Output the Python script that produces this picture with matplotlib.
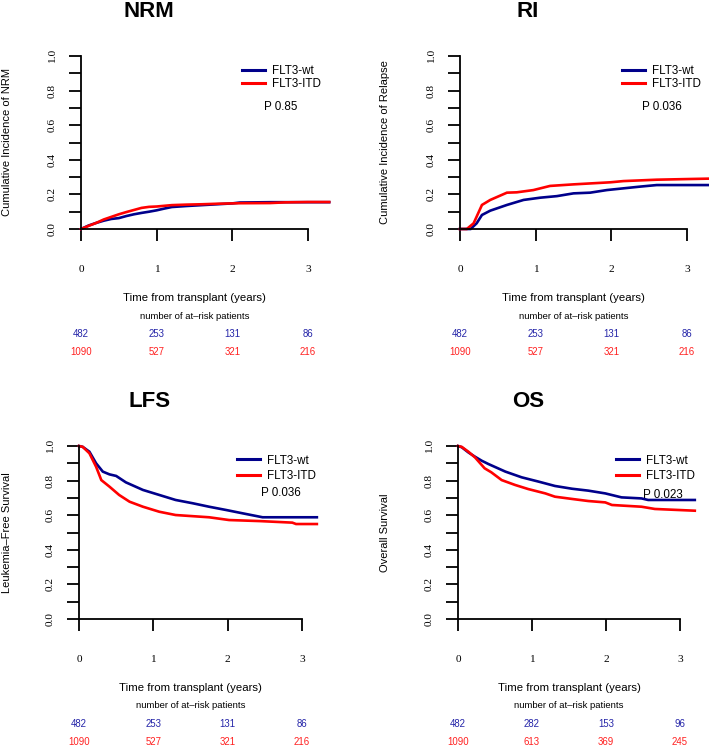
import matplotlib
matplotlib.use("Agg")
import matplotlib.pyplot as plt
import numpy as np
from matplotlib.transforms import blended_transform_factory
from matplotlib.lines import Line2D

plt.rcParams['font.family'] = ['Liberation Sans', 'DejaVu Sans']

# ---------------- data ----------------
groups = ["FLT3-wt", "FLT3-ITD"]
years_ticks = [0, 1, 2, 3]

nrm_t = [0, 0.1, 0.2, 0.3, 0.4, 0.5, 0.6, 0.7, 0.8, 0.9, 1.0, 1.1, 1.2, 1.4, 1.6,
         1.8, 2.0, 2.1, 2.5, 2.7, 3.0, 3.28]
nrm_wt = [0, 0.02, 0.035, 0.048, 0.058, 0.063, 0.075, 0.085, 0.093, 0.1, 0.108, 0.118,
          0.127, 0.133, 0.138, 0.143, 0.148, 0.153, 0.155, 0.155, 0.155, 0.155]
nrm_itd = [0, 0.018, 0.035, 0.055, 0.07, 0.085, 0.098, 0.11, 0.122, 0.128, 0.13, 0.134,
           0.138, 0.141, 0.143, 0.146, 0.148, 0.149, 0.15, 0.154, 0.156, 0.156]

ri_t_wt = [0, 0.14, 0.22, 0.29, 0.4, 0.62, 0.84, 1.06, 1.28, 1.5, 1.72, 1.94, 2.16,
           2.38, 2.6, 3.28]
ri_wt = [0, 0.0, 0.033, 0.081, 0.106, 0.139, 0.168, 0.181, 0.19, 0.206, 0.21, 0.225,
         0.235, 0.245, 0.254, 0.254]
ri_t_itd = [0, 0.09, 0.18, 0.29, 0.4, 0.62, 0.75, 0.97, 1.19, 1.5, 1.99, 2.16, 2.6,
            3.04, 3.28]
ri_itd = [0, 0.0, 0.033, 0.139, 0.168, 0.21, 0.212, 0.225, 0.249, 0.258, 0.27, 0.277,
          0.285, 0.289, 0.291]

lfs_t_wt = [0, 0.05, 0.14, 0.23, 0.32, 0.41, 0.5, 0.63, 0.86, 1.08, 1.3, 1.53, 1.75,
            1.98, 2.2, 2.47, 3.2]
lfs_wt = [1.0, 0.995, 0.967, 0.90, 0.852, 0.836, 0.827, 0.79, 0.746, 0.717, 0.688,
          0.669, 0.649, 0.63, 0.611, 0.588, 0.588]
lfs_t_itd = [0, 0.05, 0.14, 0.23, 0.3, 0.41, 0.54, 0.68, 0.86, 1.08, 1.3, 1.75, 2.02,
             2.43, 2.87, 2.92, 3.2]
lfs_itd = [1.0, 0.995, 0.958, 0.88, 0.803, 0.765, 0.717, 0.678, 0.649, 0.62, 0.601,
           0.588, 0.572, 0.566, 0.557, 0.549, 0.549]

os_t_wt = [0, 0.05, 0.14, 0.23, 0.32, 0.41, 0.64, 0.86, 1.09, 1.31, 1.54, 1.76, 1.99,
           2.21, 2.48, 2.57, 3.2]
os_wt = [1.0, 0.993, 0.963, 0.938, 0.915, 0.896, 0.852, 0.819, 0.794, 0.769, 0.753,
         0.742, 0.726, 0.703, 0.697, 0.688, 0.688]
os_t_itd = [0, 0.05, 0.14, 0.23, 0.3, 0.36, 0.45, 0.59, 0.77, 0.95, 1.18, 1.31, 1.54,
            1.76, 1.99, 2.08, 2.48, 2.66, 3.2]
os_itd = [1.0, 0.995, 0.967, 0.934, 0.9, 0.871, 0.848, 0.803, 0.775, 0.751, 0.726,
          0.707, 0.694, 0.682, 0.674, 0.659, 0.649, 0.636, 0.626]

risk_nrm_wt = [482, 253, 131, 86]
risk_nrm_itd = [1090, 527, 321, 216]
risk_ri_wt = [482, 253, 131, 86]
risk_ri_itd = [1090, 527, 321, 216]
risk_lfs_wt = [482, 253, 131, 86]
risk_lfs_itd = [1090, 527, 321, 216]
risk_os_wt = [482, 282, 153, 96]
risk_os_itd = [1090, 613, 369, 245]

titles = ["NRM", "RI", "LFS", "OS"]
ylabels = ["Cumulative Incidence of NRM", "Cumulative Incidence of Relapse",
           "Leukemia\u2013Free Survival", "Overall Survival"]
pvalues = ["P 0.85", "P 0.036", "P 0.036", "P 0.023"]

# ---------------- layout (pixels) ----------------
W, H = 709, 746
AX_H = 173
BLUE = "#00008B"
RED = "#FF0000"
NUM_BLUE = "#2424A8"
NUM_RED = "#FF2020"


def fx(x):
    return x / W


def fy(y):
    return 1 - y / H


fig = plt.figure(figsize=(W / 100, H / 100), dpi=100)

panels = [
    dict(left=81, top=56, ppy=75.67, tcx=149, tby=17, ylx=7,
         leg=(242, 65), lsp=0.12, p=(264, 106.5),
         data=(nrm_t, nrm_wt, nrm_t, nrm_itd), risk=(risk_nrm_wt, risk_nrm_itd)),
    dict(left=460, top=56, ppy=75.67, tcx=528, tby=17, ylx=385,
         leg=(622, 65), lsp=0.12, p=(642, 106.5),
         data=(ri_t_wt, ri_wt, ri_t_itd, ri_itd), risk=(risk_ri_wt, risk_ri_itd)),
    dict(left=79, top=446, ppy=74.33, tcx=150, tby=407, ylx=7,
         leg=(237, 454.5), lsp=0.3, p=(261, 492.5),
         data=(lfs_t_wt, lfs_wt, lfs_t_itd, lfs_itd), risk=(risk_lfs_wt, risk_lfs_itd)),
    dict(left=458, top=446, ppy=74.0, tcx=528, tby=407, ylx=385,
         leg=(616, 454.5), lsp=0.3, p=(643, 494.5),
         data=(os_t_wt, os_wt, os_t_itd, os_itd), risk=(risk_os_wt, risk_os_itd)),
]

for i, pn in enumerate(panels):
    left, top, ppy = pn["left"], pn["top"], pn["ppy"]
    bottom_px = top + AX_H
    ax = fig.add_axes([fx(left), fy(bottom_px), ppy * 3.3 / W, AX_H / H])
    ax.set_xlim(0, 3.3)
    ax.set_ylim(0, 1)
    tw, vw, ti, vi = pn["data"]
    ax.plot(tw, vw, color=BLUE, lw=1.9, solid_joinstyle="miter", clip_on=False)
    ax.plot(ti, vi, color=RED, lw=1.9, solid_joinstyle="miter", clip_on=False)

    for s in ["top", "right"]:
        ax.spines[s].set_visible(False)
    ax.spines["left"].set_bounds(0, 1)
    ax.spines["bottom"].set_bounds(0, 3)
    for s in ["left", "bottom"]:
        ax.spines[s].set_linewidth(1.3)

    ax.set_xticks(years_ticks)
    ax.set_xticklabels([str(v) for v in years_ticks])
    yt = np.round(np.arange(0, 1.01, 0.1), 1)
    ax.set_yticks(yt)
    ax.set_yticklabels([f"{v:.1f}" if k % 2 == 0 else "" for k, v in enumerate(yt)])
    ax.tick_params(axis="both", direction="out", length=8.6, width=1.3,
                   labelsize=8.2, labelfontfamily="Liberation Serif")
    ax.tick_params(axis="x", pad=17)
    ax.tick_params(axis="y", pad=9, labelrotation=90)
    for lab in ax.get_yticklabels():
        lab.set_va("center")

    # title
    fig.text(fx(pn["tcx"]), fy(pn["tby"]), titles[i], ha="center", va="baseline",
             fontsize=16, fontweight="bold")
    # y label
    fig.text(fx(pn["ylx"]), fy(top + AX_H / 2), ylabels[i], rotation=90,
             ha="center", va="center", fontsize=8)

    trans = blended_transform_factory(ax.transData, fig.transFigure)
    ax.text(1.5, fy(bottom_px + 69), "Time from transplant (years)", transform=trans,
            ha="center", va="center", fontsize=8.2)
    ax.text(1.5, fy(bottom_px + 87), "number of at\u2013risk patients", transform=trans,
            ha="center", va="center", fontsize=6.8)
    rw, ri_ = pn["risk"]
    for k, t in enumerate(years_ticks):
        ax.text(t, fy(bottom_px + 105), str(rw[k]), transform=trans, ha="center",
                va="center", fontsize=6.9, color=NUM_BLUE)
        ax.text(t, fy(bottom_px + 123), str(ri_[k]), transform=trans, ha="center",
                va="center", fontsize=6.9, color=NUM_RED)

    handles = [Line2D([], [], color=BLUE, lw=2.2), Line2D([], [], color=RED, lw=2.2)]
    ax.legend(handles, groups, loc="upper left",
              bbox_to_anchor=(fx(pn["leg"][0]), fy(pn["leg"][1])),
              bbox_transform=fig.transFigure, frameon=False, fontsize=8.4,
              handlelength=1.95, handletextpad=0.65, labelspacing=pn["lsp"],
              borderpad=0, borderaxespad=0)
    fig.text(fx(pn["p"][0]), fy(pn["p"][1]), pvalues[i], ha="left", va="center",
             fontsize=8.4)

fig.savefig("out.png", dpi=100)
